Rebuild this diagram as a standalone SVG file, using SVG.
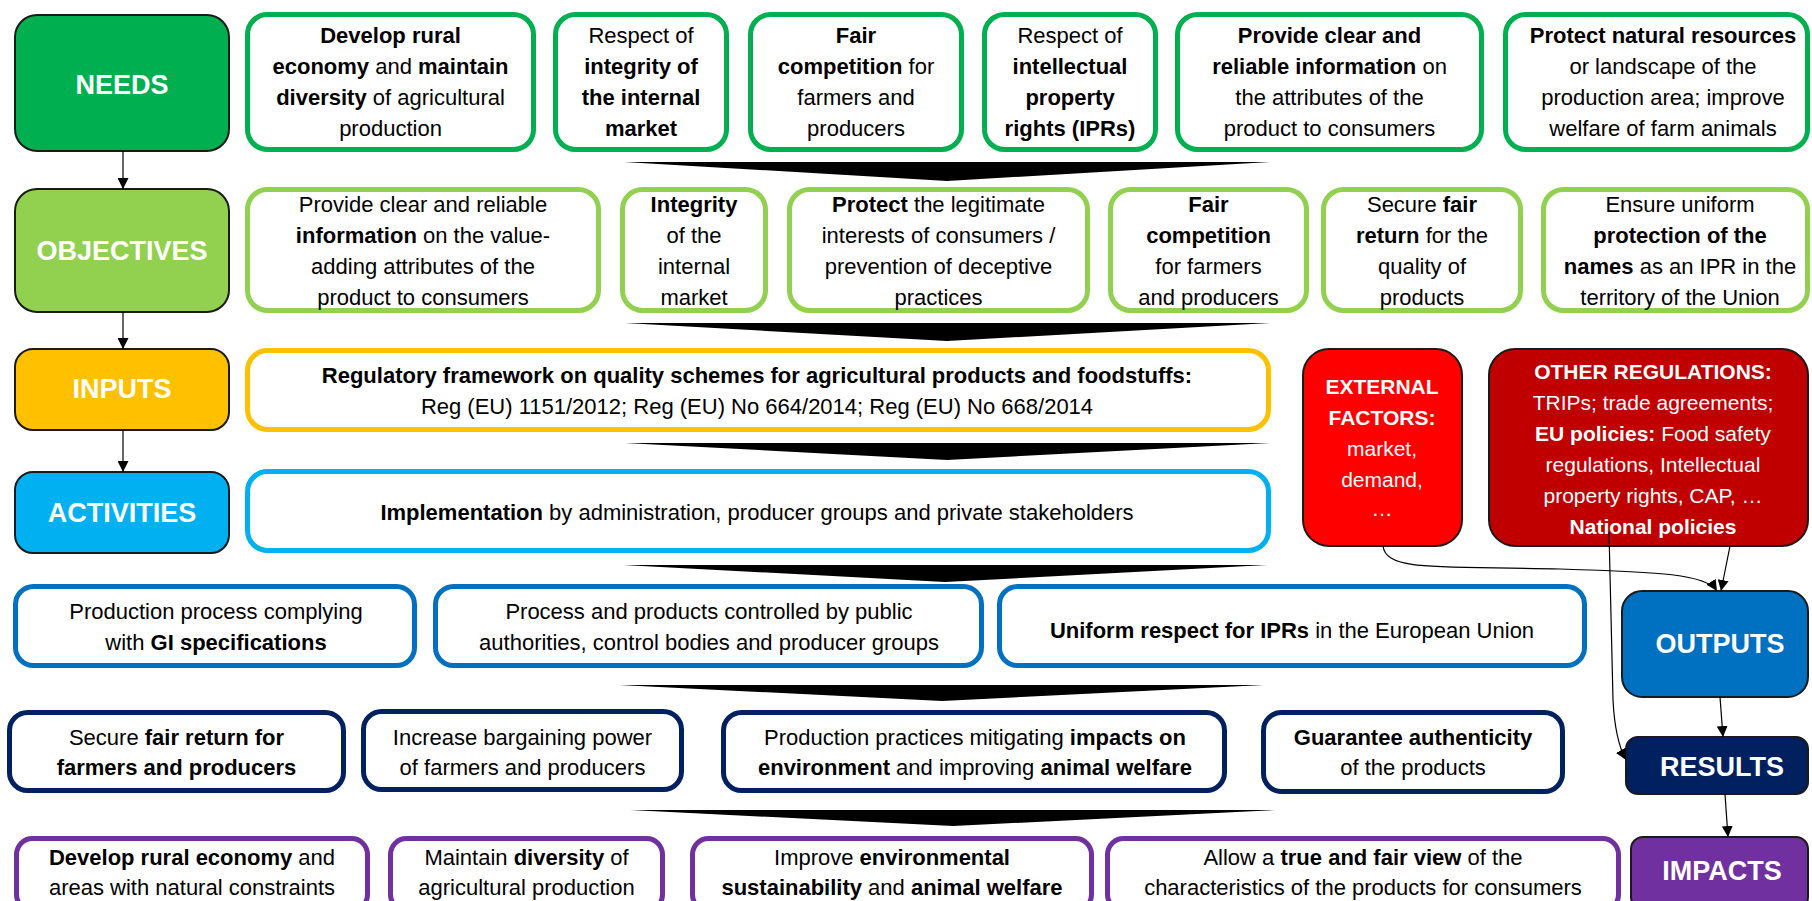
<svg xmlns="http://www.w3.org/2000/svg" width="1812" height="901" viewBox="0 0 1812 901">
<defs>
<style>
text{font-family:"Liberation Sans",Arial,sans-serif;font-size:22px;fill:#000;text-anchor:middle}
.b{font-weight:bold}
.cat{font-size:27px;font-weight:bold;fill:#fff}
.wt{fill:#fff;font-size:21px}
.catbox{stroke:#1a1a1a;stroke-width:2}
.box{fill:#fff;stroke-width:5}
.nd{stroke:#00B050}.ob{stroke:#92D050}.in{stroke:#FFC000}.ac{stroke:#00B0F0}
.ou{stroke:#0070C0}.re{stroke:#002060}.im{stroke:#7030A0}
.ln{fill:none;stroke:#000;stroke-width:1.2}
.chev{fill:#000}
</style>
<marker id="ah" viewBox="0 0 10 10" refX="10" refY="5" markerWidth="11" markerHeight="11" markerUnits="userSpaceOnUse" orient="auto">
<path d="M0,0 L10,5 L0,10 z" fill="#000"/>
</marker>
</defs>
<rect width="1812" height="901" fill="#fff"/>

<!-- category nodes -->
<g id="needs"><rect class="catbox" x="15" y="15" width="214" height="136" rx="22" fill="#00B050"/><text class="cat" x="122" y="94">NEEDS</text></g>
<g id="objectives"><rect class="catbox" x="15" y="189" width="214" height="123" rx="22" fill="#92D050"/><text class="cat" x="122" y="260">OBJECTIVES</text></g>
<g id="inputs"><rect class="catbox" x="15" y="349" width="214" height="81" rx="18" fill="#FFC000"/><text class="cat" x="122" y="398">INPUTS</text></g>
<g id="activities"><rect class="catbox" x="15" y="472" width="214" height="81" rx="18" fill="#00B0F0"/><text class="cat" x="122" y="522">ACTIVITIES</text></g>
<g id="outputs"><rect class="catbox" x="1622" y="591" width="186" height="106" rx="20" fill="#0070C0"/><text class="cat" x="1720" y="653">OUTPUTS</text></g>
<g id="results"><rect class="catbox" x="1626" y="737" width="182" height="57" rx="12" fill="#002060"/><text class="cat" x="1722" y="776">RESULTS</text></g>
<g id="impacts"><rect class="catbox" x="1631" y="837" width="177" height="72" rx="12" fill="#7030A0"/><text class="cat" x="1722" y="880">IMPACTS</text></g>

<!-- external factors / other regulations -->
<g id="external-factors"><rect class="catbox" x="1303" y="349" width="159" height="197" rx="26" fill="#FF0000"/>
<text class="wt b" x="1382" y="394">EXTERNAL</text>
<text class="wt b" x="1382" y="425">FACTORS:</text>
<text class="wt" x="1382" y="456">market,</text>
<text class="wt" x="1382" y="487">demand,</text>
<text class="wt" x="1382" y="516">…</text></g>
<g id="other-regulations"><rect class="catbox" x="1489" y="349" width="319" height="197" rx="26" fill="#C00000"/>
<text class="wt b" x="1653" y="379">OTHER REGULATIONS:</text>
<text class="wt" x="1653" y="410">TRIPs; trade agreements;</text>
<text class="wt" x="1653" y="441"><tspan class="b">EU policies:</tspan> Food safety</text>
<text class="wt" x="1653" y="472">regulations, Intellectual</text>
<text class="wt" x="1653" y="503">property rights, CAP, …</text>
<text class="wt b" x="1653" y="534">National policies</text></g>

<!-- needs row -->
<g id="need-1"><rect class="box nd" x="247.5" y="14.5" width="286" height="135" rx="20"/>
<text x="390.5" y="43" class="b">Develop rural</text>
<text x="390.5" y="74"><tspan class="b">economy</tspan> and <tspan class="b">maintain</tspan></text>
<text x="390.5" y="105"><tspan class="b">diversity</tspan> of agricultural</text>
<text x="390.5" y="136">production</text></g>
<g id="need-2"><rect class="box nd" x="555.5" y="14.5" width="171" height="135" rx="20"/>
<text x="641" y="43">Respect of</text>
<text x="641" y="74" class="b">integrity of</text>
<text x="641" y="105" class="b">the internal</text>
<text x="641" y="136" class="b">market</text></g>
<g id="need-3"><rect class="box nd" x="750.5" y="14.5" width="211" height="135" rx="20"/>
<text x="856" y="43" class="b">Fair</text>
<text x="856" y="74"><tspan class="b">competition</tspan> for</text>
<text x="856" y="105">farmers and</text>
<text x="856" y="136">producers</text></g>
<g id="need-4"><rect class="box nd" x="984.5" y="14.5" width="171" height="135" rx="20"/>
<text x="1070" y="43">Respect of</text>
<text x="1070" y="74" class="b">intellectual</text>
<text x="1070" y="105" class="b">property</text>
<text x="1070" y="136" class="b">rights (IPRs)</text></g>
<g id="need-5"><rect class="box nd" x="1177.5" y="14.5" width="304" height="135" rx="20"/>
<text x="1329.5" y="43" class="b">Provide clear and</text>
<text x="1329.5" y="74"><tspan class="b">reliable information</tspan> on</text>
<text x="1329.5" y="105">the attributes of the</text>
<text x="1329.5" y="136">product to consumers</text></g>
<g id="need-6"><rect class="box nd" x="1505.5" y="14.5" width="302" height="135" rx="20"/>
<text x="1663" y="43" class="b">Protect natural resources</text>
<text x="1663" y="74">or landscape of the</text>
<text x="1663" y="105">production area; improve</text>
<text x="1663" y="136">welfare of farm animals</text></g>

<!-- objectives row -->
<g id="objective-1"><rect class="box ob" x="247.5" y="189.5" width="351" height="121" rx="20"/>
<text x="423" y="212">Provide clear and reliable</text>
<text x="423" y="243"><tspan class="b">information</tspan> on the value-</text>
<text x="423" y="274">adding attributes of the</text>
<text x="423" y="305">product to consumers</text></g>
<g id="objective-2"><rect class="box ob" x="622.5" y="189.5" width="143" height="121" rx="20"/>
<text x="694" y="212" class="b">Integrity</text>
<text x="694" y="243">of the</text>
<text x="694" y="274">internal</text>
<text x="694" y="305">market</text></g>
<g id="objective-3"><rect class="box ob" x="789.5" y="189.5" width="298" height="121" rx="20"/>
<text x="938.5" y="212"><tspan class="b">Protect</tspan> the legitimate</text>
<text x="938.5" y="243">interests of consumers /</text>
<text x="938.5" y="274">prevention of deceptive</text>
<text x="938.5" y="305">practices</text></g>
<g id="objective-4"><rect class="box ob" x="1110.5" y="189.5" width="196" height="121" rx="20"/>
<text x="1208.5" y="212" class="b">Fair</text>
<text x="1208.5" y="243" class="b">competition</text>
<text x="1208.5" y="274">for farmers</text>
<text x="1208.5" y="305">and producers</text></g>
<g id="objective-5"><rect class="box ob" x="1323.5" y="189.5" width="197" height="121" rx="20"/>
<text x="1422" y="212">Secure <tspan class="b">fair</tspan></text>
<text x="1422" y="243"><tspan class="b">return</tspan> for the</text>
<text x="1422" y="274">quality of</text>
<text x="1422" y="305">products</text></g>
<g id="objective-6"><rect class="box ob" x="1543.5" y="189.5" width="264" height="121" rx="20"/>
<text x="1680" y="212">Ensure uniform</text>
<text x="1680" y="243" class="b">protection of the</text>
<text x="1680" y="274"><tspan class="b">names</tspan> as an IPR in the</text>
<text x="1680" y="305">territory of the Union</text></g>

<!-- inputs / activities -->
<g id="input-1"><rect class="box in" x="247.5" y="350.5" width="1021" height="79" rx="20"/>
<text x="757" y="383" class="b">Regulatory framework on quality schemes for agricultural products and foodstuffs:</text>
<text x="757" y="414">Reg (EU) 1151/2012; Reg (EU) No 664/2014; Reg (EU) No 668/2014</text></g>
<g id="activity-1"><rect class="box ac" x="247.5" y="471.5" width="1021" height="79" rx="20"/>
<text x="757" y="520"><tspan class="b">Implementation</tspan> by administration, producer groups and private stakeholders</text></g>

<!-- outputs row -->
<g id="output-1"><rect class="box ou" x="15.5" y="586.5" width="399" height="79" rx="18"/>
<text x="216" y="619">Production process complying</text>
<text x="216" y="650">with <tspan class="b">GI specifications</tspan></text></g>
<g id="output-2"><rect class="box ou" x="435.5" y="586.5" width="546" height="79" rx="18"/>
<text x="709" y="619">Process and products controlled by public</text>
<text x="709" y="650">authorities, control bodies and producer groups</text></g>
<g id="output-3"><rect class="box ou" x="999.5" y="586.5" width="585" height="79" rx="18"/>
<text x="1292" y="638"><tspan class="b">Uniform respect for IPRs</tspan> in the European Union</text></g>

<!-- results row -->
<g id="result-1"><rect class="box re" x="9.5" y="712.5" width="334" height="78" rx="18"/>
<text x="176.5" y="745">Secure <tspan class="b">fair return for</tspan></text>
<text x="176.5" y="775" class="b">farmers and producers</text></g>
<g id="result-2"><rect class="box re" x="363.5" y="711.5" width="318" height="78" rx="18"/>
<text x="522.5" y="745">Increase bargaining power</text>
<text x="522.5" y="775">of farmers and producers</text></g>
<g id="result-3"><rect class="box re" x="723.5" y="712.5" width="501" height="78" rx="18"/>
<text x="975" y="745">Production practices mitigating <tspan class="b">impacts on</tspan></text>
<text x="975" y="775"><tspan class="b">environment</tspan> and improving <tspan class="b">animal welfare</tspan></text></g>
<g id="result-4"><rect class="box re" x="1263.5" y="712.5" width="299" height="79" rx="18"/>
<text x="1413" y="745" class="b">Guarantee authenticity</text>
<text x="1413" y="775">of the products</text></g>

<!-- impacts row -->
<g id="impact-1"><rect class="box im" x="16.5" y="838.5" width="351" height="72" rx="16"/>
<text x="192" y="865"><tspan class="b">Develop rural economy</tspan> and</text>
<text x="192" y="895">areas with natural constraints</text></g>
<g id="impact-2"><rect class="box im" x="390.5" y="838.5" width="272" height="72" rx="16"/>
<text x="526.5" y="865">Maintain <tspan class="b">diversity</tspan> of</text>
<text x="526.5" y="895">agricultural production</text></g>
<g id="impact-3"><rect class="box im" x="692.5" y="838.5" width="399" height="72" rx="16"/>
<text x="892" y="865">Improve <tspan class="b">environmental</tspan></text>
<text x="892" y="895"><tspan class="b">sustainability</tspan> and <tspan class="b">animal welfare</tspan></text></g>
<g id="impact-4"><rect class="box im" x="1107.5" y="838.5" width="511" height="72" rx="16"/>
<text x="1363" y="865">Allow a <tspan class="b">true and fair view</tspan> of the</text>
<text x="1363" y="895">characteristics of the products for consumers</text></g>

<!-- connectors -->
<g id="connectors">
<polygon class="chev" points="624,162 1270,162 947,181"/>
<polygon class="chev" points="625,323 1270,323 947,341"/>
<polygon class="chev" points="625,443 1270,443 947,460"/>
<polygon class="chev" points="623,565 1267,565 945,582"/>
<polygon class="chev" points="619,685 1264,685 942,701"/>
<polygon class="chev" points="630,810 1276,810 953,826"/>
<line class="ln" x1="123" y1="151" x2="123" y2="189" marker-end="url(#ah)"/>
<line class="ln" x1="123" y1="312" x2="123" y2="349" marker-end="url(#ah)"/>
<line class="ln" x1="123" y1="430" x2="123" y2="472" marker-end="url(#ah)"/>
<path class="ln" d="M1383,546 C1386,572 1440,566 1560,569 C1660,572 1706,574 1717,591" marker-end="url(#ah)"/>
<line class="ln" x1="1730" y1="546" x2="1721" y2="591" marker-end="url(#ah)"/>
<path class="ln" d="M1609,532 L1613,700 Q1615,740 1626,760" marker-end="url(#ah)"/>
<line class="ln" x1="1720" y1="697" x2="1723" y2="737" marker-end="url(#ah)"/>
<line class="ln" x1="1725" y1="794" x2="1728" y2="837" marker-end="url(#ah)"/>
</g>
</svg>
